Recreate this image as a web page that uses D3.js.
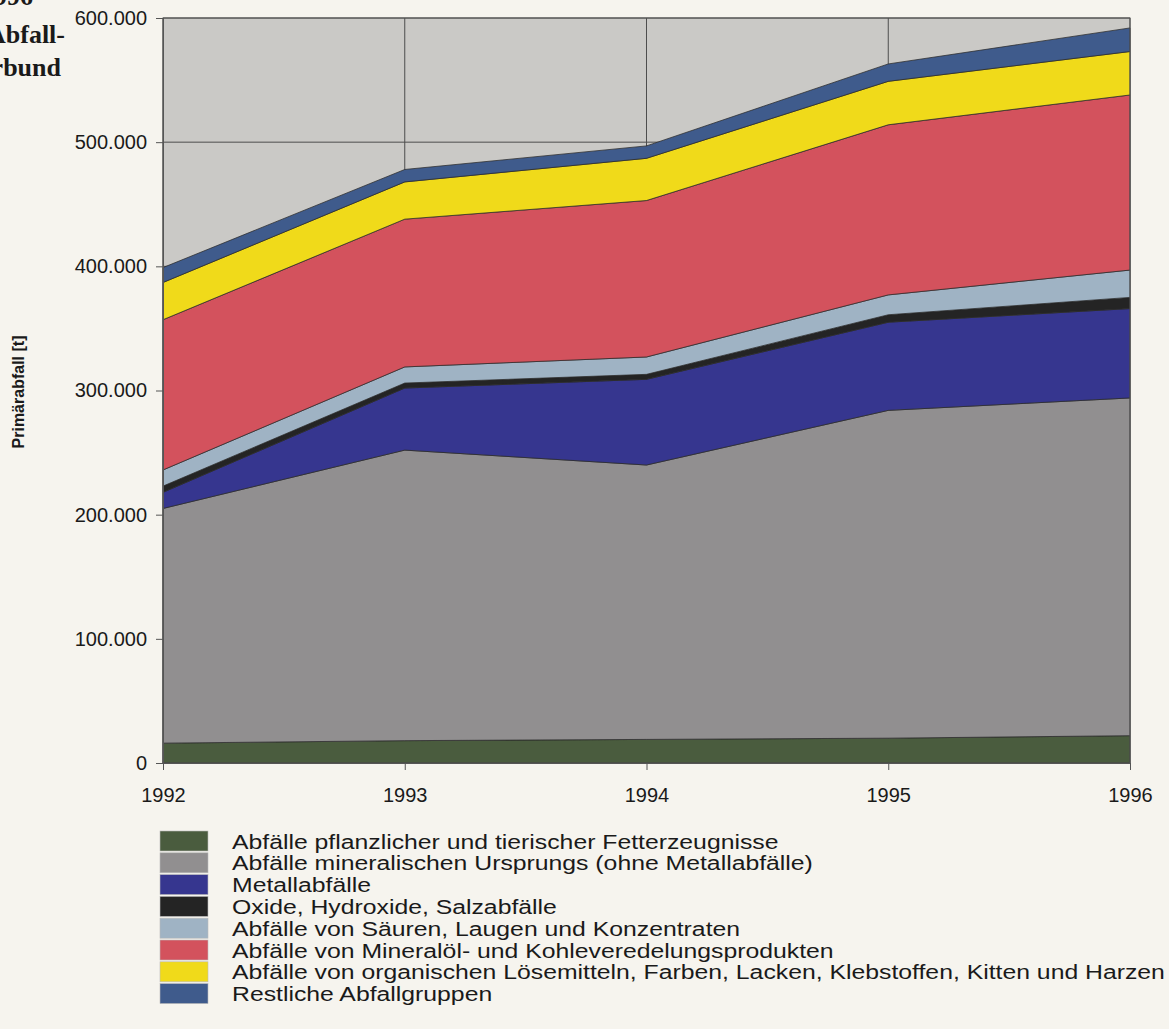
<!DOCTYPE html>
<html>
<head>
<meta charset="utf-8">
<script src="https://cdn.jsdelivr.net/npm/d3@7"></script>
<style>
  html, body { margin: 0; padding: 0; background: #f6f4ee; }
  svg { display: block; }
  text { font-family: "Liberation Sans", Arial, sans-serif; fill: #1a1a1a; }
</style>
</head>
<body>
<svg id="chart" width="1169" height="1029"></svg>
<script>
// Jahre der Erhebung
const years = [1992, 1993, 1994, 1995, 1996];

// Primärabfall je Abfallgruppe in Tonnen (von unten nach oben gestapelt)
const fette      = [16000, 18000, 19000, 20000, 22000];
const mineralisch = [189000, 234000, 221000, 264000, 272000];
const metall     = [13000, 50000, 69000, 71000, 72000];
const oxide      = [5000, 4000, 4000, 6000, 9000];
const saeuren    = [13000, 13000, 14000, 16000, 22000];
const mineraloel = [121000, 119000, 126000, 137000, 141000];
const loesemittel = [30000, 30000, 34000, 35000, 35000];
const restliche  = [12000, 10000, 10000, 14000, 19000];

const seriesNames = [
  "Abfälle pflanzlicher und tierischer Fetterzeugnisse",
  "Abfälle mineralischen Ursprungs (ohne Metallabfälle)",
  "Metallabfälle",
  "Oxide, Hydroxide, Salzabfälle",
  "Abfälle von Säuren, Laugen und Konzentraten",
  "Abfälle von Mineralöl- und Kohleveredelungsprodukten",
  "Abfälle von organischen Lösemitteln, Farben, Lacken, Klebstoffen, Kitten und Harzen",
  "Restliche Abfallgruppen"
];
const seriesValues = [fette, mineralisch, metall, oxide, saeuren, mineraloel, loesemittel, restliche];
const colors = ["#4a5c3e", "#918f90", "#36368f", "#242424", "#9fb3c4", "#d3525d", "#f0da1a", "#3f5b8c"];

const yTicks = [0, 100000, 200000, 300000, 400000, 500000, 600000];

// Tabelle für d3.stack
const keys = seriesNames.map((_, i) => "s" + i);
const table = years.map((yr, j) => {
  const row = { year: yr };
  seriesValues.forEach((vals, i) => { row[keys[i]] = vals[j]; });
  return row;
});

const svg = d3.select("#chart");
const plotL = 163, plotR = 1130, plotT = 18, plotB = 763;

const x = d3.scaleLinear().domain([1992, 1996]).range([plotL, plotR]);
const y = d3.scaleLinear().domain([0, 600000]).range([plotB, plotT]);

const de = d3.formatLocale({ decimal: ",", thousands: ".", grouping: [3], currency: ["", " €"] });
const fmt = de.format(",");

// Hintergrund der Zeichenfläche
svg.append("rect")
  .attr("x", plotL).attr("y", plotT)
  .attr("width", plotR - plotL).attr("height", plotB - plotT)
  .attr("fill", "#cac9c6");

// Gitterlinien
svg.append("g")
  .selectAll("line")
  .data(yTicks.filter(d => d > 0))
  .join("line")
  .attr("x1", plotL).attr("x2", plotR)
  .attr("y1", d => y(d)).attr("y2", d => y(d))
  .attr("stroke", "#4d4d4d").attr("stroke-width", 1);
svg.append("g")
  .selectAll("line")
  .data(years)
  .join("line")
  .attr("x1", d => x(d)).attr("x2", d => x(d))
  .attr("y1", plotT).attr("y2", plotB)
  .attr("stroke", "#4d4d4d").attr("stroke-width", 1);

// Gestapelte Flächen
const stack = d3.stack().keys(keys);
const layers = stack(table);
const area = d3.area()
  .x(d => x(d.data.year))
  .y0(d => y(d[0]))
  .y1(d => y(d[1]));

svg.append("g")
  .selectAll("path")
  .data(layers)
  .join("path")
  .attr("d", area)
  .attr("fill", (d, i) => colors[i])
  .attr("stroke", "#2b2b2b")
  .attr("stroke-opacity", 0.75)
  .attr("stroke-width", 1);

// Rahmen
svg.append("rect")
  .attr("x", plotL).attr("y", plotT)
  .attr("width", plotR - plotL).attr("height", plotB - plotT)
  .attr("fill", "none")
  .attr("stroke", "#555").attr("stroke-width", 1);

// Y-Achse
const yAxis = d3.axisLeft(y).tickValues(yTicks).tickFormat(fmt).tickSize(7).tickPadding(9);
const gy = svg.append("g").attr("transform", `translate(${plotL},0)`).call(yAxis);
gy.select(".domain").attr("stroke", "#555");
gy.selectAll(".tick line").attr("stroke", "#555");
gy.selectAll(".tick text").attr("font-size", 20).attr("fill", "#1a1a1a")
  .attr("font-family", "'Liberation Sans', Arial, sans-serif");

// X-Achse
const xAxis = d3.axisBottom(x).tickValues(years).tickFormat(d3.format("d")).tickSize(7).tickPadding(18);
const gx = svg.append("g").attr("transform", `translate(0,${plotB})`).call(xAxis);
gx.select(".domain").attr("stroke", "#555");
gx.selectAll(".tick line").attr("stroke", "#555");
gx.selectAll(".tick text").attr("font-size", 20).attr("fill", "#1a1a1a")
  .attr("font-family", "'Liberation Sans', Arial, sans-serif");

// Achsentitel
svg.append("text")
  .attr("transform", "translate(24,392) rotate(-90)")
  .attr("text-anchor", "middle")
  .attr("font-size", 16)
  .attr("font-weight", "bold")
  .text("Primärabfall [t]");

// Angeschnittener Seitentext links oben
const side = svg.append("g")
  .attr("font-weight", "bold")
  .attr("font-size", 26)
  .attr("text-anchor", "end");
[["1996", 33, 5], ["Abfall-", 65, 43], ["verbund", 61, 76]].forEach(([t, tx, ty]) => {
  side.append("text").attr("x", tx).attr("y", ty).text(t)
    .style("font-family", "'Liberation Serif', 'Times New Roman', serif");
});

// Legende: eng gesetzte, leicht breit laufende Schrift
const legend = svg.append("g").attr("transform", "translate(160,831)");
const rowH = 21.8;
const items = legend.selectAll("g")
  .data(seriesNames)
  .join("g")
  .attr("transform", (d, i) => `translate(0,${i * rowH})`);
items.append("rect")
  .attr("width", 48).attr("height", 20)
  .attr("fill", (d, i) => colors[i])
  .attr("stroke", "#bbb").attr("stroke-width", 0.6);
items.append("text")
  .attr("transform", "translate(72,17.5) scale(1.18,1)")
  .attr("font-size", 21)
  .text(d => d);
</script>
</body>
</html>
